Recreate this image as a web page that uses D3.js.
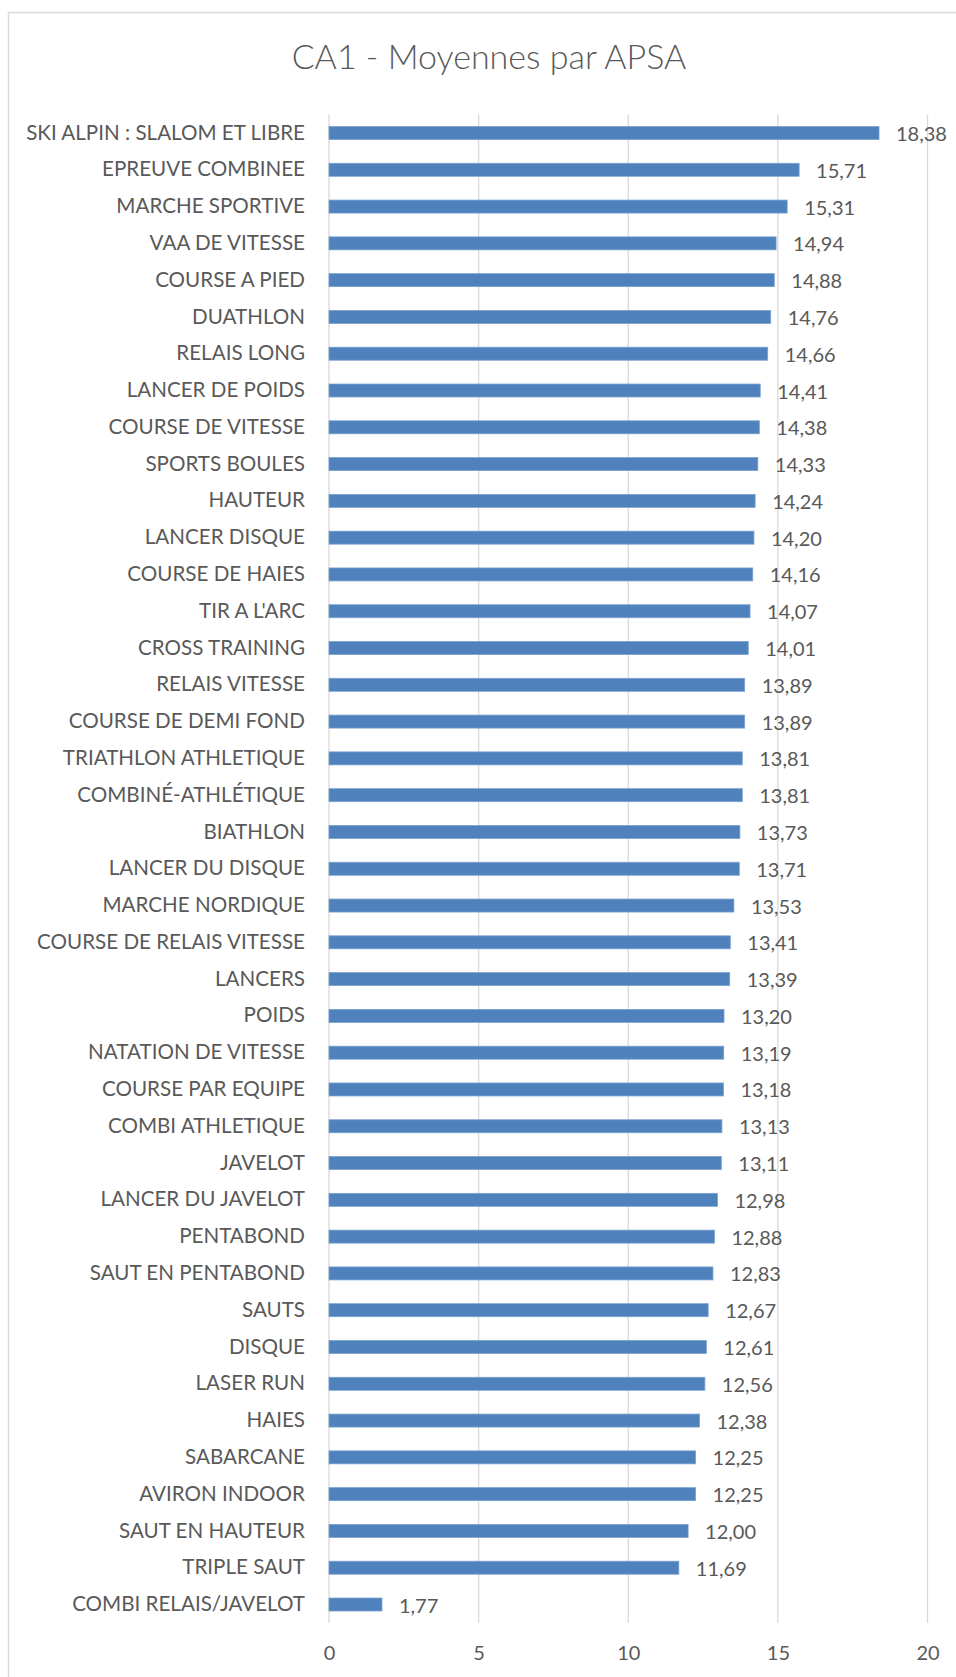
<!DOCTYPE html>
<html>
<head>
<meta charset="utf-8">
<script src="https://cdn.jsdelivr.net/npm/d3@7"></script>
<style>
    body { margin: 0; background: #fff; }
    svg text { font-family: Lato, "Open Sans", sans-serif; fill: #595959; }
</style>
</head>
<body>
<svg></svg>
<script>
// data (top to bottom)
const categories = [
    'SKI ALPIN : SLALOM ET LIBRE', 'EPREUVE COMBINEE', 'MARCHE SPORTIVE', 'VAA DE VITESSE',
    'COURSE A PIED', 'DUATHLON', 'RELAIS LONG', 'LANCER DE POIDS', 'COURSE DE VITESSE',
    'SPORTS BOULES', 'HAUTEUR', 'LANCER DISQUE', 'COURSE DE HAIES', "TIR A L'ARC",
    'CROSS TRAINING', 'RELAIS VITESSE', 'COURSE DE DEMI FOND', 'TRIATHLON ATHLETIQUE',
    'COMBINÉ-ATHLÉTIQUE', 'BIATHLON', 'LANCER DU DISQUE', 'MARCHE NORDIQUE',
    'COURSE DE RELAIS VITESSE', 'LANCERS', 'POIDS', 'NATATION DE VITESSE',
    'COURSE PAR EQUIPE', 'COMBI ATHLETIQUE', 'JAVELOT', 'LANCER DU JAVELOT', 'PENTABOND',
    'SAUT EN PENTABOND', 'SAUTS', 'DISQUE', 'LASER RUN', 'HAIES', 'SABARCANE',
    'AVIRON INDOOR', 'SAUT EN HAUTEUR', 'TRIPLE SAUT', 'COMBI RELAIS/JAVELOT'
];
const moyennes = [
    18.38, 15.71, 15.31, 14.94, 14.88, 14.76, 14.66, 14.41, 14.38, 14.33, 14.24, 14.20,
    14.16, 14.07, 14.01, 13.89, 13.89, 13.81, 13.81, 13.73, 13.71, 13.53, 13.41, 13.39,
    13.20, 13.19, 13.18, 13.13, 13.11, 12.98, 12.88, 12.83, 12.67, 12.61, 12.56, 12.38,
    12.25, 12.25, 12.00, 11.69, 1.77
];
const xTicks = [0, 5, 10, 15, 20];
const title = 'CA1 - Moyennes par APSA';

const size = {w: 956, h: 1677};
const plot = {l: 329, r: 927.5, t: 114.6, b: 1622.9};
const svg = d3.select('svg')
    .attr('width', size.w)
    .attr('height', size.h);

const data = categories.map((c, i) => ({name: c, value: moyennes[i]}));
const fmt = v => v.toFixed(2).replace('.', ',');

// chart border (right and bottom fall outside the picture)
svg.append('rect')
    .attr('x', 8.5).attr('y', 12.5)
    .attr('width', 1000).attr('height', 1700)
    .attr('fill', 'none')
    .attr('stroke', '#d9d9d9')
    .attr('stroke-width', 1.5);

// title
svg.append('text')
    .attr('x', 489).attr('y', 69)
    .attr('text-anchor', 'middle')
    .style('font-size', '34px')
    .style('font-weight', 300)
    .text(title);

// scales
let x = d3.scaleLinear()
    .domain([0, 20])
    .range([plot.l, plot.r]);

let y = d3.scaleBand()
    .domain(categories)
    .range([plot.t, plot.b])
    .paddingInner(0.647)
    .paddingOuter(0.3235);

// vertical gridlines
svg.append('g').classed('grid', true)
    .selectAll('line')
    .data(xTicks)
    .join('line')
    .attr('x1', d => x(d)).attr('x2', d => x(d))
    .attr('y1', plot.t).attr('y2', plot.b)
    .attr('stroke', '#d9d9d9')
    .attr('stroke-width', 1.3);

// x axis labels
let xAxis = d3.axisBottom(x).tickValues(xTicks).tickSize(0).tickPadding(0);
let xAxisG = svg.append('g')
    .attr('transform', `translate(0, ${plot.b + 23})`)
    .call(xAxis);
xAxisG.select('.domain').remove();
xAxisG.selectAll('text')
    .attr('dy', '0.71em')
    .style('font-size', '20px')
    .style('fill', '#595959')
    .style('font-family', 'Lato, sans-serif');

// category labels
let yAxis = d3.axisLeft(y).tickSize(0).tickPadding(24);
let yAxisG = svg.append('g')
    .attr('transform', `translate(${plot.l}, 0)`)
    .call(yAxis);
yAxisG.select('.domain').remove();
yAxisG.selectAll('text')
    .style('font-size', '20.6px')
    .style('fill', '#595959')
    .style('font-family', 'Lato, sans-serif');

// bars
svg.append('g').classed('bars', true)
    .selectAll('rect')
    .data(data)
    .join('rect')
    .attr('x', x(0))
    .attr('y', d => y(d.name))
    .attr('width', d => x(d.value) - x(0))
    .attr('height', y.bandwidth())
    .attr('fill', '#4f81bd')
    .attr('stroke', '#79a0d0')
    .attr('stroke-width', 0.8);

// value labels
svg.append('g').classed('labels', true)
    .selectAll('text')
    .data(data)
    .join('text')
    .attr('x', d => x(d.value) + 17)
    .attr('y', d => y(d.name) + y.bandwidth() / 2 + 1)
    .attr('dy', '0.35em')
    .style('font-size', '20px')
    .text(d => fmt(d.value));
</script>
</body>
</html>
